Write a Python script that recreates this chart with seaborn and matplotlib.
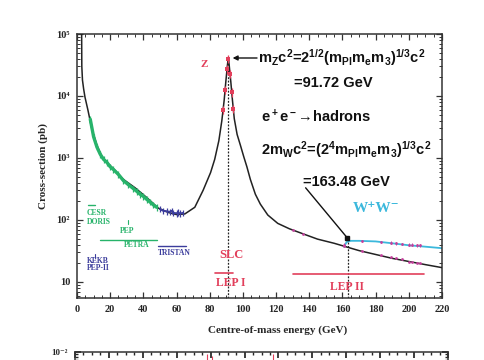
import matplotlib
matplotlib.use("Agg")
import matplotlib.pyplot as plt
import matplotlib.ticker as mticker
import numpy as np
import pandas as pd
import seaborn as sns

# ---------------- data ----------------
curve_E = [2.8, 2.9, 3.3, 4.0, 4.8, 6.6, 9, 12, 15, 19, 23, 28, 35, 42, 49, 55, 60, 65,
           71, 76, 80.5, 83, 85.5, 87.3, 88.7, 89.7, 90.7, 91.2, 91.7, 92.7, 93.7, 94.8,
           96.5, 98.5, 100.5, 102.4, 104.5, 107.5, 110.5, 115, 121, 128, 136, 145, 155,
           170, 190, 210, 220]
curve_sig = [1e5, 3.0e4, 1.8e4, 1.3e4, 9600, 5900, 2900, 1600, 1050, 800, 630, 450, 330,
             230, 155, 132, 122, 125, 160, 300, 580, 950, 1900, 4000, 8500, 17000, 32000,
             42000, 32000, 17000, 8500, 4300, 2400, 1600, 1050, 720, 450, 260, 180, 120,
             88, 72, 60, 49, 42, 32, 24, 19, 17]

green_E = [8, 10, 12, 14, 16, 18, 20, 22, 25, 28, 31, 34, 36, 38, 40, 42, 44, 46, 48]
green_sig = [4200, 2200, 1500, 1150, 950, 850, 720, 650, 540, 430, 370, 320, 290, 260,
             240, 215, 195, 175, 160]

blue_E = [50, 52, 54, 56, 57, 58, 60, 61, 62, 64]
blue_sig = [150, 140, 138, 135, 140, 130, 128, 132, 127, 130]

z_E = [88.2, 89.2, 90.2, 91.2, 92.2, 93.2, 94.2]
z_sig = [6000, 12500, 27000, 40000, 23000, 11500, 6200]

lep_E = [130, 136, 161, 172, 183, 189, 192, 196, 200, 202, 205, 207]
lep_sig = [68, 59, 38, 32, 27, 25, 24, 23, 21, 21, 20, 20]

ww_E = [161, 172, 183, 189, 192, 196, 200, 202, 205, 207]
ww_sig = [40, 46, 44, 43, 42, 41, 40, 40, 39, 39]

cyan_E = [161, 162.5, 165, 170, 180, 190, 200, 210, 220]
cyan_sig = [37, 44, 46, 46, 45, 42, 39, 37, 35]

x_ticks = [0, 20, 40, 60, 80, 100, 120, 140, 160, 180, 200, 220]
y_ticks = [10, 100, 1000, 10000, 100000]
y_labels = ["10", "10²", "10³", "10⁴", "10⁵"]

# ---------------- style ----------------
sns.set_theme(style="ticks")
plt.rcParams["font.family"] = ["Liberation Serif", "DejaVu Serif"]
plt.rcParams["mathtext.fontset"] = "custom"
plt.rcParams["mathtext.rm"] = "Liberation Sans:bold"
plt.rcParams["mathtext.it"] = "Liberation Sans:bold"
plt.rcParams["mathtext.bf"] = "Liberation Sans:bold"
plt.rcParams["mathtext.sf"] = "Liberation Sans:bold"

GREEN = "#27b36a"
BLUE = "#3c3d9c"
RED = "#e23f5b"
CYAN = "#3bb8dc"
MAG = "#c4409c"

fig = plt.figure(figsize=(4.85, 3.6), dpi=100)
ax = fig.add_axes([77 / 485, 1 - 298 / 360, (442 - 77) / 485, (298 - 34) / 360])

df_curve = pd.DataFrame({"E": curve_E, "sig": curve_sig})
sns.lineplot(data=df_curve, x="E", y="sig", ax=ax, color="#222222", lw=1.1,
             sort=False, estimator=None, zorder=3)

df_cyan = pd.DataFrame({"E": cyan_E, "sig": cyan_sig})
sns.lineplot(data=df_cyan, x="E", y="sig", ax=ax, color=CYAN, lw=1.3,
             sort=False, estimator=None, zorder=2)

# green low-energy data
df_g = pd.DataFrame({"E": green_E, "sig": green_sig})
sns.lineplot(data=df_g, x="E", y="sig", ax=ax, color=GREEN, lw=2.4,
             sort=False, estimator=None, zorder=4)
ax.errorbar(green_E, green_sig, yerr=np.array(green_sig) * 0.12, fmt="none",
            ecolor=GREEN, elinewidth=0.9, zorder=4)

# blue data
df_b = pd.DataFrame({"E": blue_E, "sig": blue_sig})
sns.lineplot(data=df_b, x="E", y="sig", ax=ax, color=BLUE, lw=1.4,
             sort=False, estimator=None, zorder=4)
ax.errorbar(blue_E, blue_sig, yerr=np.array(blue_sig) * 0.12, fmt="none",
            ecolor=BLUE, elinewidth=0.9, zorder=4)

# Z data
sns.scatterplot(x=z_E, y=z_sig, ax=ax, color=RED, marker="s", s=6, linewidth=0, zorder=5)
ax.errorbar(z_E, z_sig, yerr=np.array(z_sig) * 0.15, fmt="none", ecolor=RED,
            elinewidth=0.9, zorder=5)

# LEP II data
sns.scatterplot(x=lep_E, y=lep_sig, ax=ax, color=MAG, marker="o", s=4, linewidth=0, zorder=5)
sns.scatterplot(x=ww_E, y=ww_sig, ax=ax, color=MAG, marker="o", s=4, linewidth=0, zorder=5)
ax.errorbar(ww_E, ww_sig, yerr=np.array(ww_sig) * 0.05, fmt="none", ecolor=MAG,
            elinewidth=0.7, zorder=5)

# dotted verticals
ax.plot([91.2, 91.2], [5.5, 42000], ls=(0, (1.5, 1.2)), color="#222222", lw=0.9, zorder=2)
ax.plot([163.5, 163.5], [5.5, 50], ls=(0, (1.5, 1.2)), color="#222222", lw=0.9, zorder=2)

# experiment bars
ax.plot([6.6, 11], [175, 175], color=GREEN, lw=1.0)
ax.plot([14, 48], [48, 48], color=GREEN, lw=1.0)
ax.plot([30.5, 30.5], [86, 100], color=GREEN, lw=0.8)
ax.plot([49, 66], [38, 38], color=BLUE, lw=1.0)
ax.plot([11, 11], [24, 28], color=BLUE, lw=0.8)
ax.plot([83, 94], [14, 14], color=RED, lw=1.2)
ax.plot([130, 209], [13.5, 13.5], color=RED, lw=1.2)

sf = dict(fontweight="bold")
ax.text(6, 130, "CESR", color=GREEN, fontsize=5.5, va="center", ha="left", **sf)
ax.text(6, 93, "DORIS", color=GREEN, fontsize=5.5, va="center", ha="left", **sf)
ax.text(30, 66, "PEP", color=GREEN, fontsize=5.5, va="center", ha="center", **sf)
ax.text(36, 40, "PETRA", color=GREEN, fontsize=5.5, va="center", ha="center", **sf)
ax.text(49, 29, "TRISTAN", color=BLUE, fontsize=5.5, va="center", ha="left", **sf)
ax.text(6, 22, "KEKB", color=BLUE, fontsize=5.5, va="center", ha="left", **sf)
ax.text(6, 17, "PEP-II", color=BLUE, fontsize=5.5, va="center", ha="left", **sf)
ax.text(93, 27.5, "SLC", color=RED, fontsize=9, va="center", ha="center", **sf)
ax.text(92.5, 9.6, "LEP I", color=RED, fontsize=8.5, va="center", ha="center", **sf)
ax.text(163, 8.3, "LEP II", color=RED, fontsize=8.5, va="center", ha="center", **sf)
ax.text(76.7, 32000, "Z", color=RED, fontsize=8, va="center", ha="center", **sf)
ax.text(180, 155, "W⁺W⁻", color=CYAN, fontsize=11, va="center", ha="center",
        family=["Liberation Serif", "DejaVu Serif"], fontweight="bold")

# formula annotations (sans bold)
fa = dict(fontsize=10.5, color="#111111", family=["Liberation Sans", "DejaVu Sans"],
          fontweight="bold")
ax.annotate("", xy=(93.8, 41000), xytext=(108.5, 41000),
            arrowprops=dict(arrowstyle="-|>", color="#111111", lw=1.0,
                            mutation_scale=7, shrinkA=0, shrinkB=0))
ax.text(109.3, 41000, r"m$_Z$c$^2$=2$^{1/2}$(m$_{Pl}$m$_e$m$_3$)$^{1/3}$c$^2$",
        va="center", ha="left", **fa)
ax.text(154.7, 16200, "=91.72 GeV", va="center", ha="center", **fa)
ax.text(144.4, 4600, "e$^+$e$^-$→hadrons", va="center", ha="center", **fa)
ax.text(162, 1350, r"2m$_W$c$^2$=(2$^4$m$_{Pl}$m$_e$m$_3$)$^{1/3}$c$^2$",
        va="center", ha="center", **fa)
ax.text(162.5, 410, "=163.48 GeV", va="center", ha="center", **fa)
ax.plot([137.8, 163], [330, 51], color="#111111", lw=1.0)
ax.plot([163], [51], marker="s", ms=3, color="#111111")

# axes formatting
ax.set_yscale("log")
ax.set_xlim(0, 220)
ax.set_ylim(5.5, 1e5)
ax.set_xticks(x_ticks)
ax.set_xticklabels([str(t) for t in x_ticks], fontsize=7.5, fontweight="bold")
ax.xaxis.set_minor_locator(mticker.MultipleLocator(5))
ax.set_yticks(y_ticks)
ax.set_yticklabels(y_labels, fontsize=7.5, fontweight="bold")
ax.yaxis.set_minor_locator(mticker.LogLocator(base=10, subs=np.arange(2, 10)))
ax.yaxis.set_minor_formatter(mticker.NullFormatter())
ax.tick_params(which="both", direction="in", top=True, right=True, color="#333333")
ax.tick_params(which="major", length=4, width=0.9, pad=5)
ax.tick_params(which="minor", length=2, width=0.7)
for s in ax.spines.values():
    s.set_linewidth(1.1)
    s.set_color("#333333")
ax.set_xlabel("Centre-of-mass energy (GeV)", fontsize=8, fontweight="bold", labelpad=8)
ax.xaxis.set_label_coords(0.55, -0.105)
ax.set_ylabel("Cross-section (pb)", fontsize=8, fontweight="bold", labelpad=6)

# second (cut-off) panel at the bottom
ax2 = fig.add_axes([75 / 485, 1 - 352 / 360 - 0.3, (448 - 75) / 485, 0.3])
ax2.set_yscale("log")
ax2.set_xlim(0, 220)
ax2.set_ylim(1e-4, 1e-2)
ax2.errorbar([78, 81, 117], [8e-3, 7.5e-3, 8e-3], yerr=[[1e-3] * 3, [1e-3] * 3],
             fmt="none", ecolor=RED, elinewidth=0.8)
ax2.set_xticks(x_ticks)
ax2.xaxis.set_minor_locator(mticker.MultipleLocator(5))
ax2.set_xticklabels([])
ax2.set_yticks([1e-2])
ax2.set_yticklabels(["10⁻²"], fontsize=6.5, fontweight="bold")
ax2.yaxis.set_minor_formatter(mticker.NullFormatter())
ax2.tick_params(which="both", direction="in", top=True, bottom=False, right=True)
ax2.tick_params(which="major", length=4, pad=5)
ax2.tick_params(which="minor", length=2)
for s in ax2.spines.values():
    s.set_linewidth(1.1)
    s.set_color("#333333")

fig.savefig("out.png", dpi=100)
